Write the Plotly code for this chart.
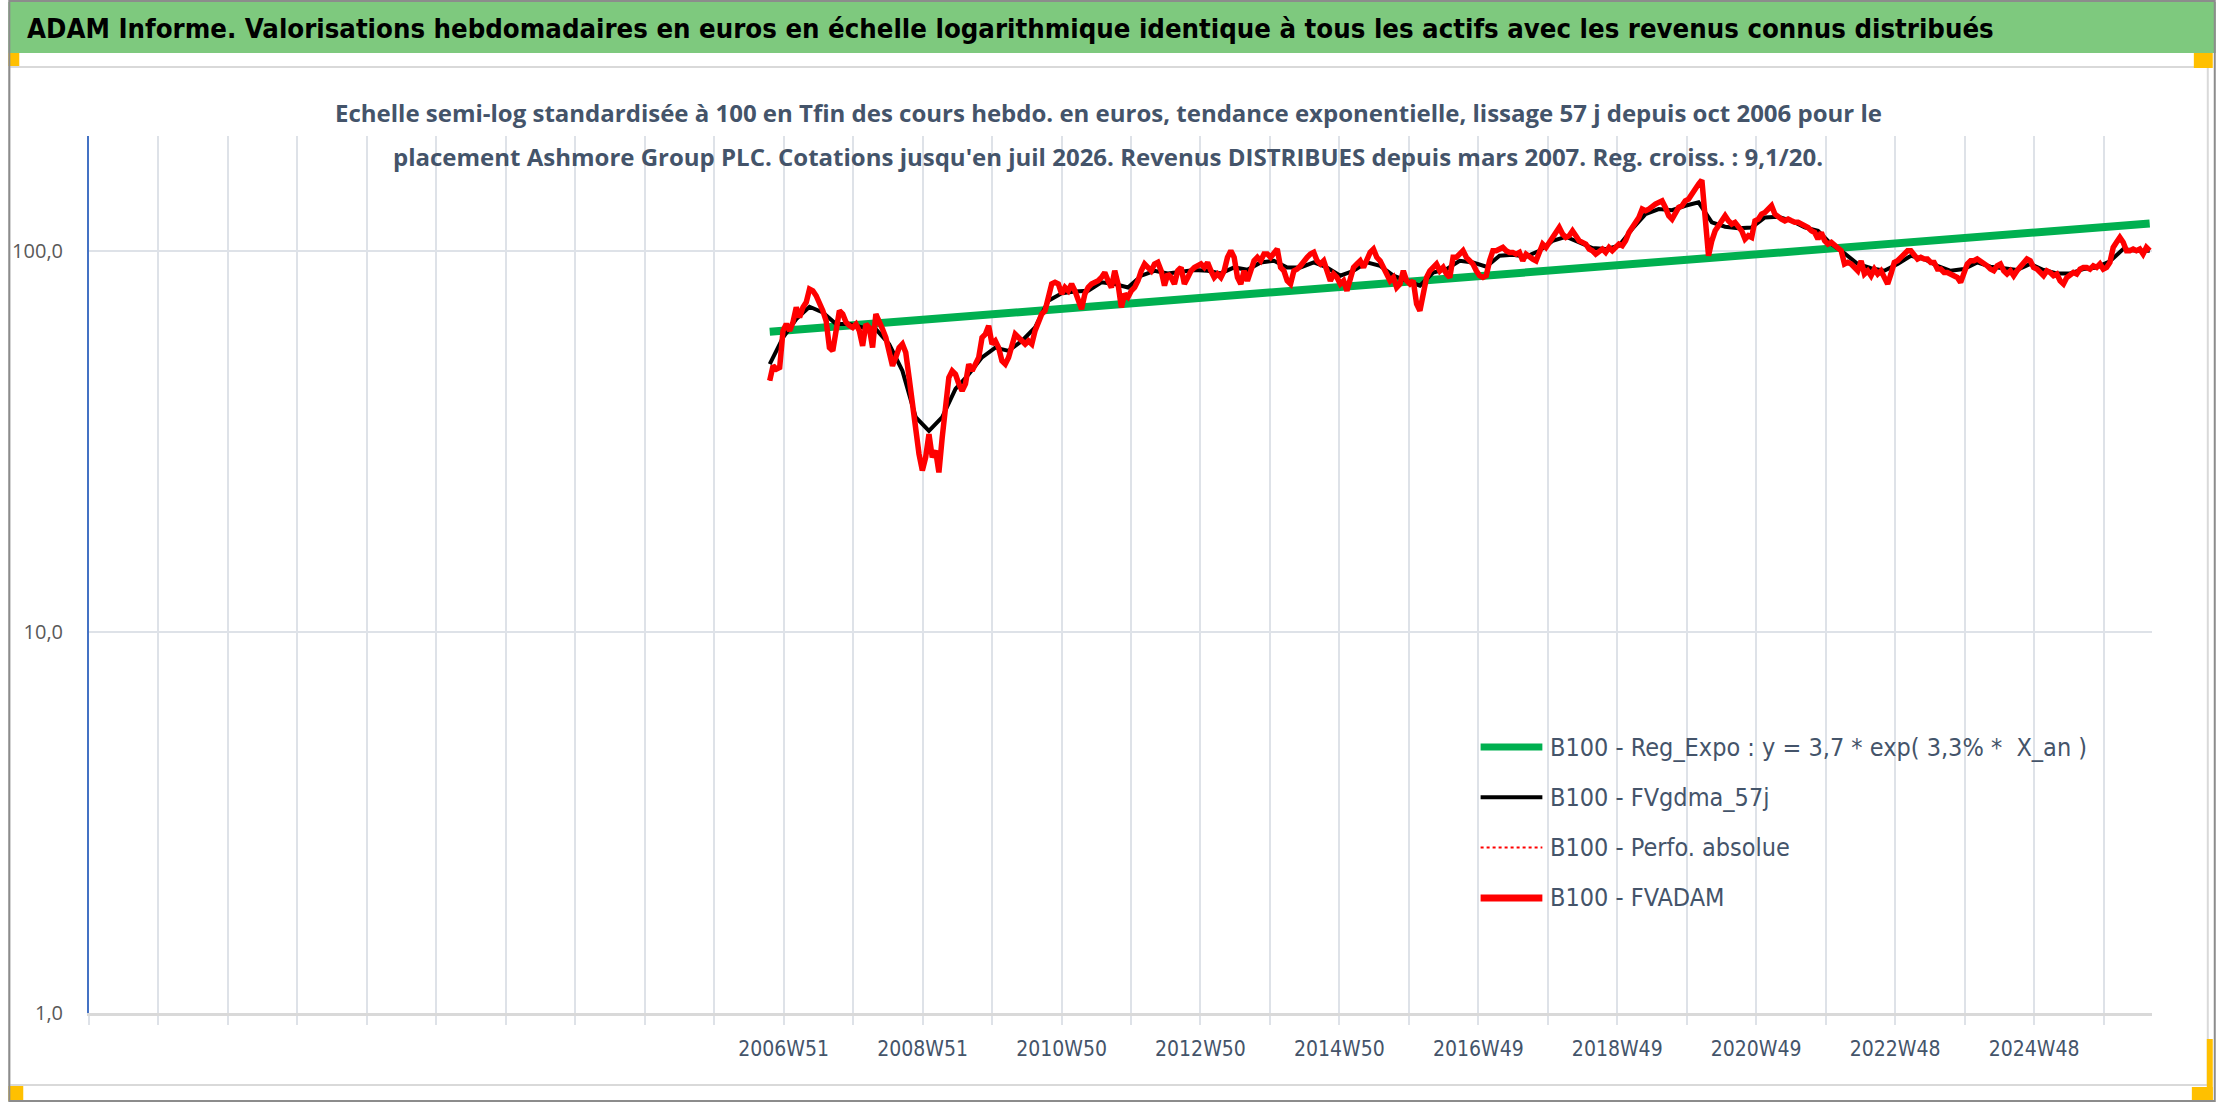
import pandas as pd
import plotly.graph_objects as go

# ---- données (base 100 en fin de période) ----
debut, fin = "2006-10-06", "2026-07-24"

fvadam = [
    45.6, 49.9, 48.9, 49.4, 61.7, 64.2, 61.7, 64.9, 71.0, 66.9,
    71.0, 73.2, 79.3, 78.5, 76.2, 73.2, 69.6, 65.5, 55.7, 54.6,
    61.7, 69.6, 68.2, 64.9, 63.6, 62.9, 64.2, 61.7, 56.3, 64.2,
    62.9, 55.7, 68.2, 65.5, 62.3, 59.2, 54.6, 49.9, 52.5, 55.7,
    56.9, 54.1, 46.5, 39.6, 33.7, 29.3, 26.5, 28.7, 33.0, 28.7,
    29.9, 26.2, 32.4, 39.6, 46.5, 48.4, 47.4, 44.7, 42.9, 44.7,
    50.4, 48.4, 50.4, 52.5, 59.2, 60.4, 63.6, 56.9, 58.0, 55.7,
    51.4, 50.4, 52.5, 55.7, 60.4, 59.2, 58.0, 56.9, 58.0, 56.9,
    61.7, 65.5, 68.2, 69.6, 75.5, 81.8, 82.6, 81.8, 77.0, 80.1,
    78.5, 81.8, 78.5, 73.9, 70.3, 77.0, 80.1, 81.8, 82.6, 83.4,
    85.1, 87.7, 83.4, 80.1, 88.6,
    81.8, 71.0, 77.0, 75.5, 78.5, 80.1, 83.4, 88.6, 92.3, 90.4,
    88.6, 92.3, 93.2, 88.6, 81.0, 86.9, 85.1, 81.8, 88.6, 90.4,
    81.8, 85.1, 88.6, 90.4, 91.3, 92.3, 90.4, 93.2, 88.6, 85.1,
    86.9, 85.1, 88.6, 96.1, 100.0, 96.1, 85.1, 81.8, 88.6, 83.4,
    88.6, 94.1, 96.1, 94.1, 98.0, 98.0, 96.1, 99.0, 101.0, 90.4,
    88.6, 83.4, 81.8, 88.6, 89.5, 91.3, 94.1, 96.1, 98.0, 99.0,
    94.1, 92.3, 94.1, 88.6, 83.4, 86.9, 85.1, 81.8, 83.4, 78.5,
    83.4, 90.4, 92.3, 94.1, 90.4, 94.1, 99.0, 101.0, 96.1, 94.1,
    90.4, 86.9, 83.4, 85.1, 80.1, 81.8, 88.6, 83.4, 81.8, 83.4,
    72.5, 69.6, 77.0, 85.1, 88.6, 90.4, 92.3, 88.6, 90.4, 86.9,
    85.1, 96.1, 96.1, 98.0, 100.0,
    96.1, 94.1, 92.3, 88.6, 86.0, 85.1, 86.0, 94.1, 100.0, 100.0,
    101.0, 102.0, 100.0, 99.0, 99.0, 98.0, 99.0, 94.1, 98.0, 96.1,
    95.1, 94.1, 100.0, 104.1, 102.0, 105.2, 108.4, 111.7, 115.1, 110.6,
    108.4, 109.5, 112.8, 109.5, 106.2, 105.2, 104.1, 101.0, 100.0, 98.0,
    100.0, 101.0, 99.0, 102.0, 100.0, 102.0, 104.1, 103.1, 106.2, 111.7,
    115.1, 118.7, 122.3, 128.6, 127.3, 128.6, 131.2, 132.5, 133.9, 135.2,
    129.9, 123.5, 121.0, 126.0, 129.9, 131.2, 135.2, 136.6, 140.8, 146.6,
    149.6, 153.2, 119.8, 97.0, 106.2, 112.8, 116.3, 119.8, 123.5, 119.8,
    117.5, 118.7, 115.1, 112.8, 107.3, 109.5, 108.4, 119.8, 121.0, 124.8,
    126.0, 128.6, 131.2, 124.8, 122.3, 121.0, 119.8, 121.0, 119.8, 118.7,
    118.7, 117.5, 116.3, 115.1, 112.8,
    111.7, 107.3, 111.7, 106.2, 104.1, 105.2, 103.1, 101.0, 100.0, 92.3,
    93.2, 92.3, 90.4, 88.6, 94.1, 86.9, 88.6, 86.0, 89.5, 86.9,
    88.6, 85.1, 81.8, 86.9, 93.2, 94.1, 96.1, 98.0, 100.0, 100.0,
    97.0, 95.1, 96.1, 95.1, 95.1, 93.2, 93.2, 89.5, 89.5, 87.7,
    87.7, 86.9, 86.0, 85.1, 82.6, 88.6, 92.3, 94.1, 94.1, 95.1,
    94.1, 92.3, 91.3, 89.5, 88.6, 91.3, 92.3, 88.6, 86.9, 88.6,
    86.0, 88.6, 90.4, 92.3, 95.1, 94.1, 90.4, 89.5, 87.7, 86.0,
    88.6, 87.7, 86.0, 86.9, 83.4, 81.8, 85.1, 86.0, 87.7, 86.9,
    89.5, 90.4, 90.4, 89.5, 91.3, 90.4, 92.3, 89.5, 90.4, 93.2,
    102.0, 105.2, 108.4, 105.2, 100.0, 100.0, 101.0, 100.0, 101.0, 98.0,
    102.0, 100.0,
]

fvgdma_57j = [
    50.4, 59.2, 66.2, 71.3, 68.9, 64.2, 64.2, 62.9, 62.3, 56.9,
    48.4, 36.6, 33.7, 36.6, 43.4, 47.4, 52.5, 55.7, 54.6, 58.0,
    62.9, 73.9, 77.3, 78.2, 78.5, 82.6, 81.8,
    80.1, 86.0, 88.6, 87.2, 88.3, 89.0, 88.6, 87.2, 90.4, 89.1,
    93.2, 94.1, 90.4, 90.4, 93.2, 90.4, 86.0, 88.6, 93.2, 91.3,
    86.0, 83.7, 81.0, 87.7, 89.5, 94.1,
    93.2, 90.8, 97.0, 97.6, 96.5, 100.0, 106.2, 108.8, 105.2, 101.6,
    101.0, 103.1, 114.0, 124.8, 128.6, 127.8, 131.2, 133.9, 118.7, 115.6,
    114.6, 115.1, 122.3, 122.8, 119.8, 115.1,
    112.8, 104.1, 98.4, 92.3, 90.0, 88.6, 92.3, 97.0, 95.1, 91.3,
    88.6, 89.5, 93.2, 90.8, 90.0, 89.0, 92.3, 89.0, 87.2, 87.2,
    89.5, 90.4, 93.8, 101.0, 100.0, 100.0,
]

# confondue avec FVADAM, cachée sous la courbe rouge
perfo_absolue = fvadam

# tendance exponentielle : valeurs de début et de fin
reg_expo = [61.3, 117.9]

etiquettes_x = ["2006W51", "2008W51", "2010W50", "2012W50", "2014W50",
                "2016W49", "2018W49", "2020W49", "2022W48", "2024W48"]
y_ticks = [1, 10, 100]
y_labels = ["1,0", "10,0", "100,0"]

noms = ["B100 - Reg_Expo : y = 3,7 * exp( 3,3% *  X_an )",
        "B100 - FVgdma_57j",
        "B100 - Perfo. absolue",
        "B100 - FVADAM"]

titre = ("ADAM Informe. Valorisations hebdomadaires en euros en échelle logarithmique "
         "identique à tous les actifs avec les revenus connus distribués")
sous_titre = [
    "Echelle semi-log standardisée à 100 en Tfin des cours hebdo. en euros, tendance "
    "exponentielle, lissage 57 j depuis oct 2006 pour le",
    "placement Ashmore Group PLC. Cotations jusqu'en juil 2026. Revenus DISTRIBUES "
    "depuis mars 2007. Reg. croiss. : 9,1/20.",
]

# ---- mise en page ----
W, H = 2216, 1102
L, R, T, B = 81, 64, 136, 89
NARROW = "Liberation Sans Narrow, DejaVu Sans Condensed, Arial Narrow, sans-serif"
SANS = "Open Sans, Noto Sans, sans-serif"
GRID = "#DEE2E8"
SLATE = "#44546A"


def fx(px):
    return (px - L) / (W - L - R)


def fy(py):
    return (H - B - py) / (H - T - B)


dates_fv = pd.date_range(debut, fin, periods=len(fvadam))
dates_gd = pd.date_range(debut, fin, periods=len(fvgdma_57j))
dates_reg = [debut, fin]

ticks_maj = pd.date_range("2006-12-18", periods=len(etiquettes_x), freq="728D")
grille = pd.date_range("1996-12-30", periods=30, freq="364D")
ticks_min = [d.strftime("%Y-%m-%d") for d in grille if d not in ticks_maj]

fig = go.Figure()
fig.add_trace(go.Scatter(x=dates_reg, y=reg_expo, mode="lines",
                         line=dict(color="#00B050", width=8), showlegend=False))
fig.add_trace(go.Scatter(x=dates_gd, y=fvgdma_57j, mode="lines",
                         line=dict(color="#000000", width=4), showlegend=False))
fig.add_trace(go.Scatter(x=dates_fv, y=perfo_absolue, mode="lines",
                         line=dict(color="#FF0000", width=2, dash="dot"), showlegend=False))
fig.add_trace(go.Scatter(x=dates_fv, y=fvadam, mode="lines",
                         line=dict(color="#FF0000", width=5.5), showlegend=False))

fig.update_layout(
    width=W, height=H,
    margin=dict(l=L, r=R, t=T, b=B, pad=0),
    paper_bgcolor="white", plot_bgcolor="white",
    showlegend=False,
)

fig.update_xaxes(
    type="date", range=["1996-12-30", "2026-08-05"],
    tickmode="array",
    tickvals=[d.strftime("%Y-%m-%d") for d in ticks_maj], ticktext=etiquettes_x,
    ticks="outside", ticklen=9, tickwidth=2, tickcolor=GRID,
    showgrid=True, gridcolor=GRID, gridwidth=2,
    showline=True, linecolor="#D9D9D9", linewidth=3,
    tickfont=dict(family=NARROW, size=21, color=SLATE),
    ticklabelstandoff=6,
    minor=dict(tickmode="array", tickvals=ticks_min, ticks="outside", ticklen=9,
               tickwidth=2, tickcolor=GRID, showgrid=True, gridcolor=GRID, gridwidth=2),
    zeroline=False,
)
fig.update_yaxes(
    type="log", range=[0, 2.30103],
    tickmode="array", tickvals=y_ticks, ticktext=y_labels,
    showgrid=True, gridcolor=GRID, gridwidth=2,
    showline=True, linecolor="#4472C4", linewidth=2,
    ticks="", ticklabelstandoff=20,
    tickfont=dict(family=SANS, size=20, color="#595959"),
    zeroline=False,
)

shapes = []
# bandeau vert du titre
shapes.append(dict(type="rect", xref="paper", yref="paper", x0=fx(0), x1=fx(W),
                   y0=fy(53), y1=fy(2), fillcolor="#7EC97E", line=dict(width=0), layer="below"))
# cadre du graphique
shapes.append(dict(type="rect", xref="paper", yref="paper", x0=fx(1), x1=fx(2208),
                   y0=fy(1085), y1=fy(67), line=dict(color="#D9D9D9", width=2), layer="below"))
# poignées de sélection orange
for x0, x1, y0, y1 in [(0, 11, 53, 66), (2194, 2213, 53, 68), (2207, 2213, 1039, 1101),
                       (2192, 2213, 1087, 1101), (0, 15, 1086, 1101)]:
    shapes.append(dict(type="rect", xref="paper", yref="paper", x0=fx(x0), x1=fx(x1),
                       y0=fy(y1), y1=fy(y0), fillcolor="#FFC000", line=dict(width=0)))
# bordure de la capture
shapes.append(dict(type="rect", xref="paper", yref="paper", x0=fx(1), x1=fx(W - 1),
                   y0=fy(H - 1), y1=fy(1), line=dict(color="#8C8C8C", width=2)))

# légende dessinée à la main (traits longs comme dans l'original)
styles = [dict(color="#00B050", width=7), dict(color="#000000", width=4),
          dict(color="#FF0000", width=2, dash="dot"), dict(color="#FF0000", width=7)]
annotations = []
for i, (nom, st) in enumerate(zip(noms, styles)):
    yy = 747 + 50.3 * i
    shapes.append(dict(type="line", xref="paper", yref="paper", x0=fx(1478), x1=fx(1540),
                       y0=fy(yy), y1=fy(yy), line=st))
    annotations.append(dict(xref="paper", yref="paper", x=fx(1546), y=fy(yy), text=nom,
                            showarrow=False, xanchor="left", yanchor="middle",
                            font=dict(family=NARROW, size=25, color=SLATE)))

annotations.append(dict(xref="paper", yref="paper", x=fx(17), y=fy(29),
                        text="<b>" + titre + "</b>", showarrow=False,
                        xanchor="left", yanchor="middle",
                        font=dict(family=NARROW, size=27.3, color="black")))
for ligne, yy in zip(sous_titre, [113, 156]):
    annotations.append(dict(xref="paper", yref="paper", x=fx(1104), y=fy(yy),
                            text="<b>" + ligne + "</b>", showarrow=False,
                            xanchor="center", yanchor="middle",
                            font=dict(family=SANS, size=24, color=SLATE)))

fig.update_layout(shapes=shapes, annotations=annotations)

# la page est photographiée sans marge autour du graphique, sans barre d'outils
fig.write_html("out.html", config={"displayModeBar": False},
               post_script="document.body.style.margin = '0';")
